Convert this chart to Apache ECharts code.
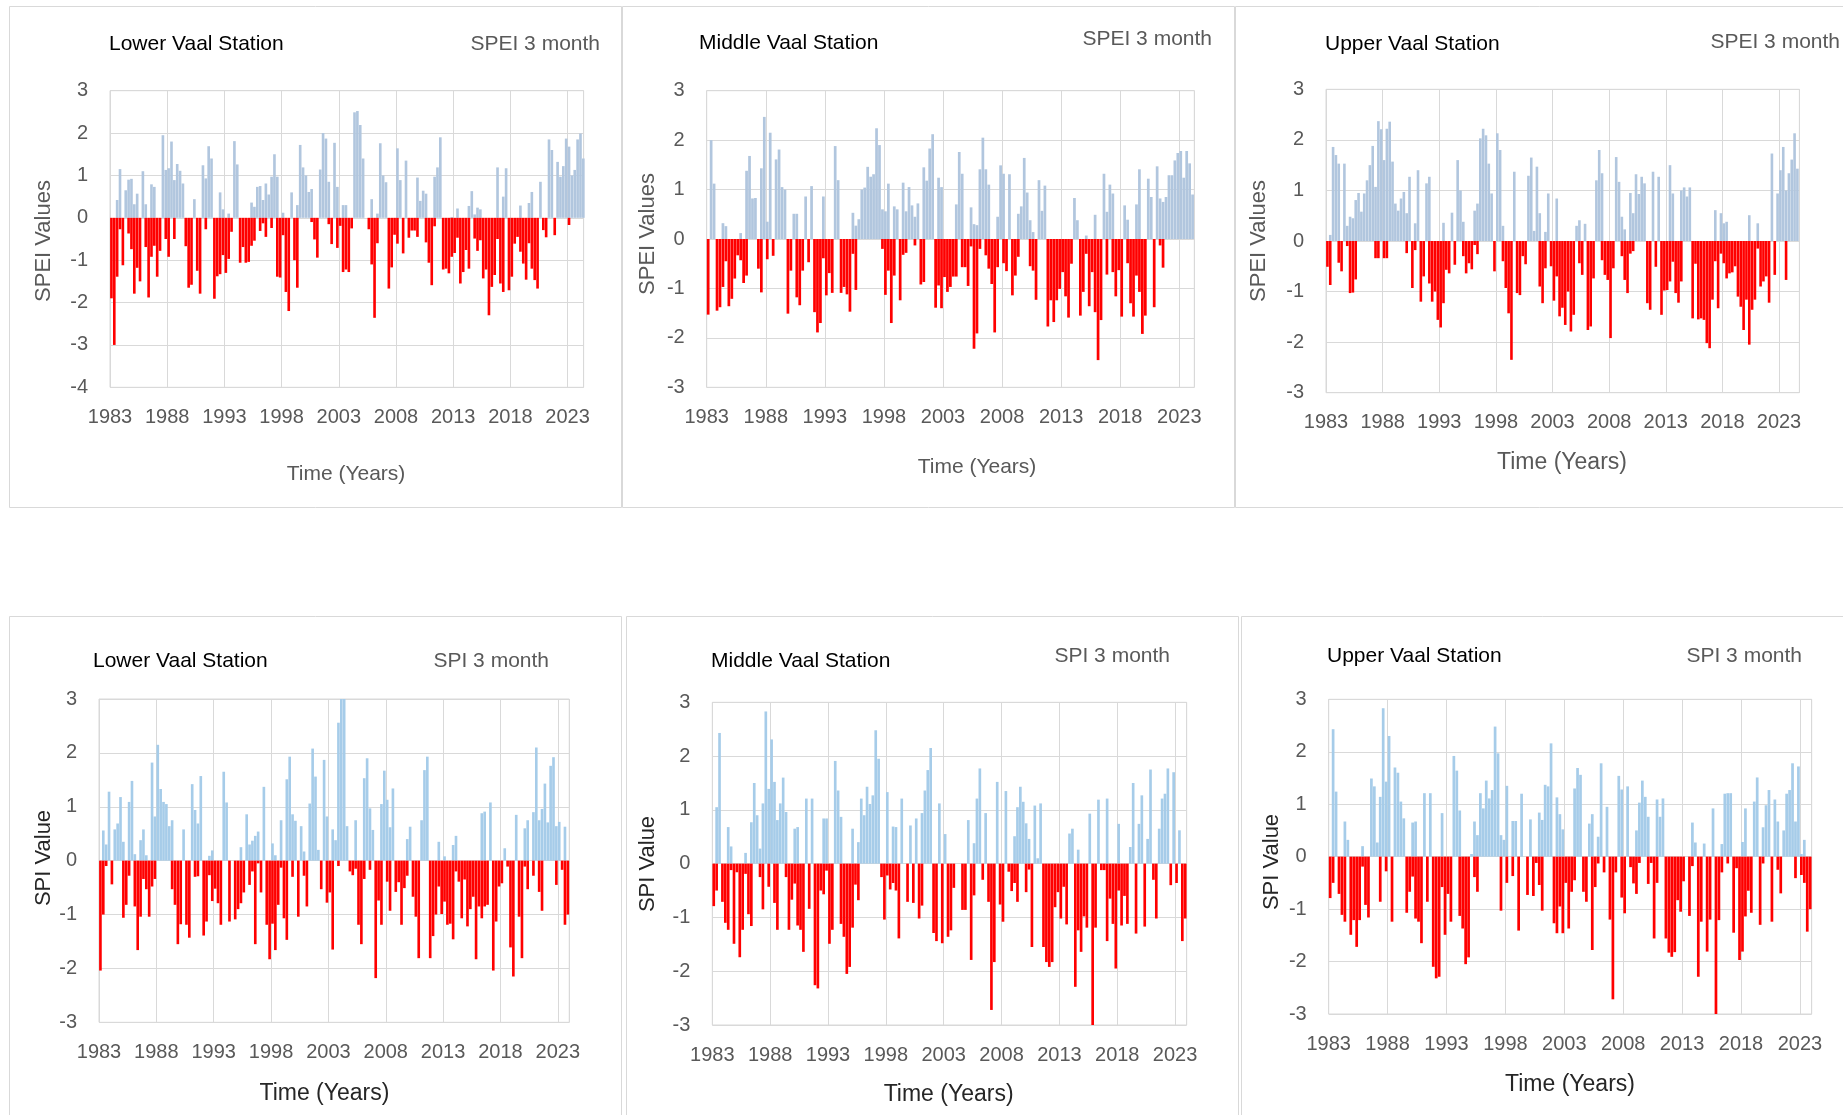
<!DOCTYPE html>
<html>
<head>
<meta charset="utf-8">
<script src="https://cdn.jsdelivr.net/npm/echarts@6/dist/echarts.min.js"></script>
<style>
html,body{margin:0;padding:0;background:#fff;}
#c{width:1843px;height:1115px;}
</style>
</head>
<body>
<div id="c"></div>
<script>
// ---------- DATA (quarterly peaks, starting 1983 Q1) ----------
const startYear = 1983;
const stepYears = 0.25;
const xTickYears = [1983, 1988, 1993, 1998, 2003, 2008, 2013, 2018, 2023];

// Panel 1: Lower Vaal Station, SPEI 3 month
const lowerSpeiPos = [
0,0,0.42,1.15,0,0.65,0.9,0.92,0.32,0.57,
0,1.1,0.32,0,0.79,0.73,0,0,1.95,1.13,
1.17,1.8,0.89,1.27,1.11,0.81,0,0,0,0.44,
0,0,1.24,0.93,1.69,1.4,0,0,0.6,0.2,
0,0.1,0,1.81,1.26,0,0,0,0,0.36,
0.26,0.73,0.75,0.42,0.81,0.55,0.97,1.5,0.97,0,
0.12,0,0,0.6,0,0.3,1.72,1.19,1.0,0.61,
0.68,0,0,1.14,2.0,1.87,0.85,0,1.77,0.73,
0,0.3,0.3,0,0,2.49,2.52,2.19,1.4,0,
0,0.44,0,0.1,1.76,1.0,0.84,0,0,0,
1.64,0.89,0,1.35,0,0,0,0.95,0.4,0.64,
0.57,0,0,0.97,1.19,1.9,0,0,0,0.02,
0,0.22,0,0,0,0.28,0.63,0.08,0.24,0.2,
0,0,0,0,0,1.19,0,0.5,1.17,0,
0,0,0,0.29,0,0,0.35,0.61,0,0,
0.85,0,0,1.85,1.6,0,1.32,0.97,1.22,1.87,
1.68,1.0,1.13,1.85,1.99,1.4];
const lowerSpeiNeg = [
-1.9,-3.0,-1.39,-0.27,-1.12,0,-0.37,-0.74,-1.79,-1.18,
-1.5,0,-0.69,-1.88,-0.92,-0.66,-1.39,-0.78,0,-0.5,
-0.92,0,-0.5,0,0,0,-0.67,-1.65,-1.58,0,
-1.25,-1.79,0,-0.27,0,0,-1.91,-1.38,-1.33,-0.88,
-1.3,-0.97,-0.33,0,0,-1.06,-0.69,-1.06,-1.04,-0.66,
-0.54,0,-0.31,-0.13,-0.45,0,-0.24,0,-1.39,-1.41,
-0.41,-1.75,-2.2,0,-1.0,-1.65,0,0,0,0,
-0.1,-0.51,-0.94,0,0,0,-0.15,-0.62,0,-0.71,
-0.19,-1.28,-1.22,-1.28,-0.25,0,0,0,0,0,
-0.27,-1.1,-2.36,-0.6,0,0,0,-1.67,-1.17,-0.4,
-0.61,0,-0.84,0,-0.47,-0.3,-0.3,-0.45,0,0,
-0.58,-1.06,-1.59,-0.2,0,0,-1.22,-1.2,-1.31,-0.92,
-0.83,-0.47,-1.55,-1.28,-0.76,-1.2,0,-0.49,-0.78,-0.53,
-1.43,-1.22,-2.3,-1.63,-1.35,-0.5,-1.55,-1.75,0,-1.71,
-1.39,-0.61,-0.45,-0.8,-1.08,-1.46,-0.6,-1.2,-1.47,-1.67,
0,-0.29,-0.46,0,0,-0.41,0,0,0,0,
-0.17,0,0,0,0,0];

// Panel 2: Middle Vaal Station, SPEI 3 month
const middleSpeiPos = [
0,2.0,1.12,0,0,0.32,0.26,0,0,0,
0,0.12,0,1.38,1.68,0.82,0.83,0,1.43,2.47,
0.35,2.15,0,1.61,1.81,1.05,1.0,0,0,0.51,
0.51,0,0,0.86,0,1.07,0,0,0,0.86,
0,0,0,1.88,1.19,0,0,0,0,0.53,
0.27,0.4,1.0,1.04,1.46,1.26,1.31,2.24,1.9,0.6,
0.56,1.12,0,0.66,0.6,0,1.14,0.56,1.05,0.68,
0.45,0.72,0,1.45,1.18,1.83,2.12,0,1.24,1.05,
0,0,0,0,0.7,1.76,1.32,0,0,0.64,
0.3,0.28,1.41,2.05,1.41,1.1,0,0,0.45,1.49,
1.32,0,1.31,0,0,0.51,0.66,1.64,0.94,0.38,
0.14,0,1.19,0.57,1.08,0,0,0,0,0,
0,0,0,0,0.83,0.38,0,0,0.07,0,
0,0.49,0,0,1.32,0.55,1.1,0.92,0,0,
0,0.68,0.39,0,0,0.7,1.41,0,0,1.22,
0.85,0,1.47,0.82,0.75,0.85,1.29,1.29,1.59,1.74,
1.78,1.24,1.78,1.53,0.9];
const middleSpeiNeg = [
-1.53,0,0,-1.45,-1.38,-0.97,-0.45,-1.36,-1.21,-0.8,
-0.33,-0.43,-0.89,-0.74,0,0,0,-0.6,-1.08,0,
-0.41,0,-0.34,0,0,0,0,-1.51,-0.64,0,
-1.18,-1.34,-0.64,0,-0.47,0,-1.48,-1.89,-1.7,-0.39,
-1.14,-0.69,-1.09,0,0,-1.09,-0.97,-1.12,-1.47,-0.3,
-1.03,0,0,0,0,0,0,0,0,-0.2,
-1.13,-0.64,-1.7,-0.74,0,-1.24,-0.32,-0.28,0,0,
-0.13,0,-0.92,-0.87,0,0,0,-1.39,-0.94,-1.4,
-0.77,-1.07,-0.97,-0.76,-0.76,0,-0.57,-0.57,-0.95,-0.15,
-2.22,-1.91,-0.2,0,-0.33,-0.6,-0.91,-1.89,-0.57,0,
-0.49,-0.65,0,-1.14,-0.74,-0.36,0,0,0,-0.55,
-0.64,-1.23,0,0,0,-1.77,-1.24,-1.68,-1.24,-1.01,
-0.67,-1.16,-1.59,-0.5,0,0,-1.55,-1.07,-0.3,-1.36,
-0.67,-1.48,-2.45,-1.64,0,-0.72,0,-0.67,-1.16,-0.63,
-1.57,0,-0.49,-1.3,-1.57,-0.74,-1.07,-1.92,-1.55,0,
0,-1.38,0,-0.13,-0.58,0,0,0,0,0,
0,0,0,0,0];

// Panel 3: Upper Vaal Station, SPEI 3 month
const upperSpeiPos = [
0,0.12,1.86,1.7,1.53,0,1.53,0.3,0.48,0.45,
0.81,0.95,0.58,0.94,1.2,1.5,1.88,1.07,2.37,2.21,
1.6,2.22,2.36,1.57,0.74,0.6,0.84,0.97,0.55,1.27,
0,0.35,1.4,0,0,1.14,1.27,0,0,0,
0,0.36,0,0,0.56,0,1.6,1.0,0.38,0,
0,0,0.6,0.74,2.03,2.22,2.09,1.53,0.94,0,
2.13,1.8,0.3,0,0,0,1.37,0,0,0,
0,1.29,1.65,0.2,1.47,0.55,0,0.18,0.94,0,
0,0.84,0,0,0,0,0,0,0.3,0.41,
0,0.34,0,0,0,1.2,1.8,1.34,0,0,
0,0,1.66,1.17,0.48,0.23,0,0.95,0.55,1.32,
0.93,1.27,1.14,0,0,1.37,0,1.27,0,0,
0,1.5,0.94,0,0,1.0,1.06,0.88,1.06,0,
0,0,0,0,0,0,0,0.61,0,0.55,
0.35,0.38,0,0,0,0,0,0,0,0.51,
0,0,0.35,0,0,0,0,1.73,0,0.94,
1.4,1.86,1.0,1.34,1.61,2.13,1.43];
const upperSpeiNeg = [
-0.51,-0.87,0,0,-0.43,-0.6,0,-0.1,-1.03,-1.02,
-0.76,0,0,0,0,0,0,-0.34,-0.34,0,
-0.34,-0.34,0,0,0,0,0,0,-0.24,0,
-0.93,-0.18,0,-1.2,-0.7,0,-0.84,-1.2,-1.0,-1.56,
-1.71,-1.23,-0.57,-0.64,0,-0.47,0,0,-0.3,-0.64,
-0.44,-0.56,-0.08,-0.26,0,0,0,0,0,-0.6,
0,0,-0.4,-0.93,-1.43,-2.35,0,-1.03,-1.07,-0.3,
-0.46,0,0,0,0,-0.9,-1.23,-0.54,0,-0.5,
-1.18,-0.7,-1.49,-1.32,-1.66,-1.0,-1.79,-1.46,0,-0.44,
-0.67,0,-1.76,-1.69,-0.74,0,0,-0.38,-0.67,-0.77,
-1.92,-0.54,0,0,-0.3,-0.77,-1.03,-0.25,-0.2,0,
0,0,0,-1.23,-1.36,0,-0.51,0,-1.46,-0.98,
-0.97,-0.8,-0.41,-1.03,-1.22,-0.8,0,0,0,-1.53,
-0.45,-1.55,-1.53,-1.56,-2.02,-2.12,-1.16,-0.4,-1.33,-0.25,
-0.44,-0.74,-0.64,-0.62,-0.5,-1.1,-1.3,-1.76,-1.16,-2.05,
-1.36,-1.16,-0.15,-0.9,-0.8,-0.7,-1.22,0,-0.67,0,
0,0,-0.77,0,0,0,0];

// Panel 4: Lower Vaal Station, SPI 3 month
const lowerSpiPos = [
0,0.56,0.3,1.28,0,0.58,0.69,1.18,0.35,0,
1.09,1.48,0.12,0,0.38,0.58,0.1,0,1.82,0.82,
2.15,1.33,1.09,1.05,0.64,0.75,0,0,0,0.58,
0,0,1.42,0.94,0.69,1.57,0,0,0.09,0.19,
0,0,0,1.65,1.08,0,0,0,0,0.25,
0,0.86,0.3,0.37,0.46,0.54,0,1.37,0,0,
0.32,0.1,0,0.75,0,1.51,1.93,0.86,0.74,0,
0.64,0.17,0,1.06,2.08,1.56,0.2,0,1.87,0.82,
0,0.58,0.38,2.56,3.0,3.0,0.64,0,0,0.75,
0,0,1.53,1.9,0.97,0.57,0,0,1.05,1.67,
1.13,0.62,1.34,0,0,0,0,0.4,0.63,0,
0,0,0.75,1.68,1.93,0,0,0,0.35,0,
0.08,0,0,0.29,0.46,0,0,0,0,0,
0,0,0,0.88,0.91,0,1.08,0,0,0,
0,0.23,0,0,0,0.85,0,0,0.6,0.75,
0,0.9,2.1,0.75,0.96,1.43,0.71,1.76,1.92,0.64,
0.72,0,0.63,0];
const lowerSpiNeg = [
-2.04,-1.0,-0.1,0,-0.44,0,0,0,-1.06,-0.82,
-0.28,0,-0.85,-1.66,-1.04,-0.34,-0.53,-1.04,-0.48,-0.34,
0,0,0,0,0,-0.53,-0.82,-1.55,-1.18,0,
-1.19,-1.43,0,-0.3,-0.29,0,-1.39,-1.13,-0.27,-0.75,
-0.52,-0.79,-1.19,0,0,-1.13,0,-1.09,-0.9,-0.79,
-0.59,0,-0.45,-0.2,-1.55,-0.05,-0.59,0,-1.19,-1.83,
-1.17,-1.66,-0.82,-0.13,-1.07,-1.47,0,-0.3,0,-1.04,
0,-0.28,-0.85,0,0,0,0,-0.53,0,-0.78,
-0.59,-1.65,0,-0.1,0,0,0,-0.2,-0.27,-0.15,
-1.19,-1.55,-0.34,0,-0.17,0,-2.18,-0.74,-1.19,0,
-0.39,-0.93,0,-0.58,-0.4,-1.19,-0.51,-0.28,0,-0.67,
-1.04,-1.81,0,0,0,-1.81,-1.4,-1.0,-0.48,-0.99,
-0.76,-1.19,-1.17,-1.46,-0.2,-0.39,-1.07,-0.35,-1.22,-0.9,
-0.67,-1.83,-0.85,-1.07,-0.85,-0.82,0,-2.04,-1.13,-0.48,
-0.42,0,-0.11,-1.61,-2.15,0,-1.04,-1.81,-0.11,-0.53,
0,-0.28,0,-0.58,-0.93,0,0,0,0,-0.45,
0,-0.17,-1.19,-1.0];

// Panel 5: Middle Vaal Station, SPI 3 month
const middleSpiPos = [
0,1.05,2.43,0,0,0.68,0.32,0,0,0,
0,0.2,0,0.77,1.5,0.9,0.28,1.12,2.83,1.39,
2.31,1.52,0.81,1.12,1.6,0.96,0,0,0.65,0.68,
0,0,1.21,0,1.21,0,0,0,0.84,0.84,
0,0,1.91,1.36,0.87,0,0,0,0.65,0,
0.4,1.21,0.9,1.43,1.11,1.27,2.48,1.95,0,0,
1.33,0,0.69,0.68,0,1.21,0,0,0.71,0,
0.84,0,0.94,1.36,1.74,2.15,0,0,1.12,0,
0.55,0,0,0,0,0,0,0,0.81,0,
0.38,1.21,1.77,0,0.94,0,0,0,1.52,0,
0,1.35,0,0,0.51,1.05,1.43,1.15,0.75,0.46,
0,1.08,0.1,1.12,0,0,0,0,0,0,
0,0,0,0.56,0.65,0,0.26,0,0,0,
0.93,0,0,1.19,0,0,1.21,0,0,0,
0.74,0,0,0,0.31,1.5,0,0.74,1.27,0,
0.46,1.75,0,0,0.65,1.21,1.3,1.77,0,1.7,
0,0.62,0,0];
const middleSpiNeg = [
-0.79,-0.5,0,-0.71,-1.1,-1.23,-0.12,-1.49,-0.16,-1.74,
-1.23,-0.19,-0.94,-1.16,0,0,-0.25,-0.85,0,-0.43,
0,-0.73,-1.23,0,0,-0.25,-1.23,-0.67,-0.37,-1.15,
-1.23,-1.64,0,-0.84,0,-2.26,-2.32,-0.5,-0.57,-0.13,
-1.49,-1.23,0,0,-1.12,-1.36,-2.05,-1.92,-1.19,-0.39,
-0.68,0,0,0,0,0,0,0,-0.25,-1.04,
-0.22,-0.48,-0.36,-0.5,-1.39,0,0,-0.71,0,-0.73,
0,-1.02,-0.78,0,0,0,-1.29,-1.44,0,-1.48,
0,-1.36,-1.24,-0.45,0,0,-0.86,-0.86,0,-1.79,
-0.59,0,0,-0.3,0,-0.71,-2.72,-1.83,0,-0.76,
-1.08,0,-0.15,-0.51,-0.36,-0.71,0,0,-0.53,-0.11,
-1.55,0,0,0,-1.55,-1.83,-1.92,-1.83,-0.81,-0.53,
-1.02,-0.43,-1.13,0,0,-2.29,-1.24,-1.64,-0.98,-1.19,
0,-3.0,-1.19,0,-0.12,-0.12,-1.44,-0.65,-1.12,-1.95,
-0.5,-1.15,-0.6,-1.12,0,0,-1.3,0,0,-1.17,
0,0,-0.3,-1.02,0,0,0,0,-0.4,0,
-0.36,0,-1.44,-1.02];

// Panel 6: Upper Vaal Station, SPI 3 month
const upperSpiPos = [
0,2.43,1.24,0,0,0.67,0.32,0,0,0,
0,0.2,0,0,1.49,1.34,0.27,1.14,2.83,1.43,
2.3,0,1.7,1.6,1.05,0.73,0,0,0.65,0.67,
0,0,1.21,0,1.21,0,0,0,0.83,0,
0,0,1.92,1.64,0.88,0,0,0,0.05,0.67,
0.41,1.21,0.92,1.45,1.11,1.27,2.48,1.97,0.41,0.32,
1.35,0,0.68,0.68,0,1.2,0,0,0.71,0,
0,0.84,0.7,1.37,1.34,2.16,0,1.13,0.81,0.52,
0,0,0,1.3,1.69,1.56,0,0,0.63,0.81,
0,0.38,1.78,0,0.95,0,0,0,1.54,1.28,
0,1.34,0,0,0.5,1.03,1.45,1.14,0.76,0,
0,1.09,0.76,1.11,0,0,0,0,0,0,
0,0,0,0.65,0.27,0,0,0.25,0,0,
0.92,0,0,0.24,1.2,1.21,1.21,0,0,0,
0.28,0.92,0,0,1.05,1.51,0,0.56,0.98,1.27,
0,1.09,0.67,0,0.5,1.2,1.27,1.78,0.67,1.72,
0.05,0.32,0,0];
const upperSpiNeg = [
-0.79,-0.5,0,-0.71,-1.11,-1.24,0,-1.49,-1.21,-1.72,
-1.21,-0.19,-0.92,-1.16,0,0,0,-0.86,0,-0.28,
0,-1.24,0,0,0,0,-1.07,-0.67,-0.38,-1.18,
-1.24,-1.65,0,-0.86,0,-2.1,-2.32,-2.29,-0.58,-1.49,
-0.71,-1.24,0,0,-1.13,-1.37,-2.05,-1.92,0,-0.39,
-0.67,0,0,0,0,0,0,0,-1.03,0,
-0.5,0,-0.37,0,-1.41,0,0,-0.73,0,-0.75,
-0.12,-0.54,-1.03,0,0,0,-1.27,-1.46,-0.95,-1.46,
-0.5,-1.37,-0.67,-0.45,0,0,-0.67,-0.86,0,-1.78,
-0.58,-0.13,0,-0.3,0,-1.2,-2.72,-0.3,0,-0.78,
-1.08,0,-0.2,-0.51,-0.71,-0.12,0,0,-0.52,-0.12,
-1.56,-0.5,0,0,-1.56,-1.83,-1.91,-1.82,-0.83,-1.05,
-0.47,0,-1.13,-0.18,0,-2.29,-1.24,0,-1.81,-1.2,
0,-3.0,-1.21,-0.3,0,-0.13,0,-1.45,-0.22,-1.97,
-1.81,-1.14,-0.65,-1.07,0,0,-1.3,-0.13,0,0,
-1.24,0,-0.25,-0.7,0,0,0,0,-0.41,0,
-0.35,-0.5,-1.43,-1.0];

// ---------- LAYOUT ----------
const FONT = "'Liberation Sans', Arial, sans-serif";
const GRID_COLOR = '#d9d9d9';
const TICK_COLOR = '#595959';
const RED = '#ff0000';
const SPEI_BLUE = '#b1c6de';
const SPI_BLUE = '#a6cce9';

const panels = [
  {pos: lowerSpeiPos,  neg: lowerSpeiNeg,  blue: SPEI_BLUE, left: 110,   top: 90.7,  pxYr: 11.44,  height: 296.6, xMax: 41.4,  yMin: -4},
  {pos: middleSpeiPos, neg: middleSpeiNeg, blue: SPEI_BLUE, left: 706.7, top: 90.7,  pxYr: 11.815, height: 296.6, xMax: 41.27, yMin: -3},
  {pos: upperSpeiPos,  neg: upperSpeiNeg,  blue: SPEI_BLUE, left: 1326,  top: 89.3,  pxYr: 11.325, height: 303.4, xMax: 41.8,  yMin: -3},
  {pos: lowerSpiPos,   neg: lowerSpiNeg,   blue: SPI_BLUE,  left: 99,    top: 699,   pxYr: 11.47,  height: 323.3, xMax: 41.0,  yMin: -3},
  {pos: middleSpiPos,  neg: middleSpiNeg,  blue: SPI_BLUE,  left: 712.3, top: 702.3, pxYr: 11.57,  height: 322.7, xMax: 41.0,  yMin: -3},
  {pos: upperSpiPos,   neg: upperSpiNeg,   blue: SPI_BLUE,  left: 1328.7,top: 699.3, pxYr: 11.78,  height: 314.7, xMax: 41.0,  yMin: -3}
];

const grids = [], xAxes = [], yAxes = [], series = [];
panels.forEach((p, i) => {
  grids.push({left: p.left, top: p.top, width: p.xMax * p.pxYr, height: p.height,
              show: true, borderColor: GRID_COLOR, borderWidth: 1, containLabel: false});
  xAxes.push({
    type: 'value', gridIndex: i, min: 0, max: p.xMax, interval: 5,
    axisLine: {show: false}, axisTick: {show: false},
    splitLine: {show: true, lineStyle: {color: GRID_COLOR, width: 1}},
    axisLabel: {
      color: TICK_COLOR, fontSize: 20, fontFamily: FONT, margin: 20, showMaxLabel: false,
      formatter: v => {
        const yr = Math.round(startYear + v);
        return xTickYears.indexOf(yr) >= 0 && Math.abs(startYear + v - yr) < 1e-6 ? String(yr) : '';
      }
    }
  });
  yAxes.push({
    type: 'value', gridIndex: i, min: p.yMin, max: 3, interval: 1,
    axisLine: {show: false}, axisTick: {show: false},
    splitLine: {show: true, lineStyle: {color: GRID_COLOR, width: 1}},
    axisLabel: {color: TICK_COLOR, fontSize: 20, fontFamily: FONT, margin: 22}
  });
  const bw = p.pxYr * stepYears * 0.92;
  const toPairs = arr => arr.map((v, k) => [k * stepYears + stepYears / 2, v]);
  series.push({type: 'bar', xAxisIndex: i, yAxisIndex: i, stack: 's' + i, barWidth: bw,
               data: toPairs(p.pos), itemStyle: {color: p.blue}, silent: true, clip: true});
  series.push({type: 'bar', xAxisIndex: i, yAxisIndex: i, stack: 's' + i, barWidth: bw,
               data: toPairs(p.neg), itemStyle: {color: RED}, silent: true, clip: true});
});

function txt(text, x, y, size, color, align, rot) {
  return {type: 'text', x: x, y: y, rotation: rot || 0, silent: true,
    style: {text: text, fill: color, font: size + 'px ' + FONT,
            align: align || 'left', textAlign: align || 'left',
            verticalAlign: 'middle', textVerticalAlign: 'middle'}};
}
function box(x, y, w, h) {
  return {type: 'rect', shape: {x: x, y: y, width: w, height: h}, silent: true,
          style: {fill: 'none', stroke: GRID_COLOR, lineWidth: 1}};
}
const R = Math.PI / 2;
const graphics = [
  box(9.5, 6.5, 612, 501), box(622.5, 6.5, 612, 501), box(1235.5, 6.5, 620, 501),
  box(9.5, 616.5, 612, 520), box(626.5, 616.5, 612, 520), box(1241.5, 616.5, 620, 520),

  txt('Lower Vaal Station', 109, 44, 21, '#000', 'left'),
  txt('SPEI 3 month', 600, 44, 21, TICK_COLOR, 'right'),
  txt('Middle Vaal Station', 699, 43, 21, '#000', 'left'),
  txt('SPEI 3 month', 1212, 39, 21, TICK_COLOR, 'right'),
  txt('Upper Vaal Station', 1325, 44, 21, '#000', 'left'),
  txt('SPEI 3 month', 1840, 42, 21, TICK_COLOR, 'right'),
  txt('Lower Vaal Station', 93, 661, 21, '#000', 'left'),
  txt('SPI 3 month', 549, 661, 21, TICK_COLOR, 'right'),
  txt('Middle Vaal Station', 711, 661, 21, '#000', 'left'),
  txt('SPI 3 month', 1170, 656, 21, TICK_COLOR, 'right'),
  txt('Upper Vaal Station', 1327, 656, 21, '#000', 'left'),
  txt('SPI 3 month', 1802, 656, 21, TICK_COLOR, 'right'),

  txt('SPEI Values', 43.5, 241, 22, TICK_COLOR, 'center', R),
  txt('SPEI Values', 647.6, 234, 22, TICK_COLOR, 'center', R),
  txt('SPEI Values', 1259, 241, 22, TICK_COLOR, 'center', R),
  txt('SPI Value', 43.5, 858, 22, '#262626', 'center', R),
  txt('SPI Value', 647.6, 864, 22, '#262626', 'center', R),
  txt('SPI Value', 1271.8, 862, 22, '#262626', 'center', R),

  txt('Time (Years)', 346, 474, 21, TICK_COLOR, 'center'),
  txt('Time (Years)', 977, 467, 21, TICK_COLOR, 'center'),
  txt('Time (Years)', 1562, 463, 23, TICK_COLOR, 'center'),
  txt('Time (Years)', 324.4, 1094, 23, '#262626', 'center'),
  txt('Time (Years)', 948.6, 1095, 23, '#262626', 'center'),
  txt('Time (Years)', 1570, 1085, 23, '#262626', 'center')
];

const chart = echarts.init(document.getElementById('c'), null, {renderer: 'canvas'});
chart.setOption({
  backgroundColor: '#ffffff',
  animation: false,
  grid: grids, xAxis: xAxes, yAxis: yAxes, series: series,
  graphic: graphics
});
</script>
</body>
</html>
